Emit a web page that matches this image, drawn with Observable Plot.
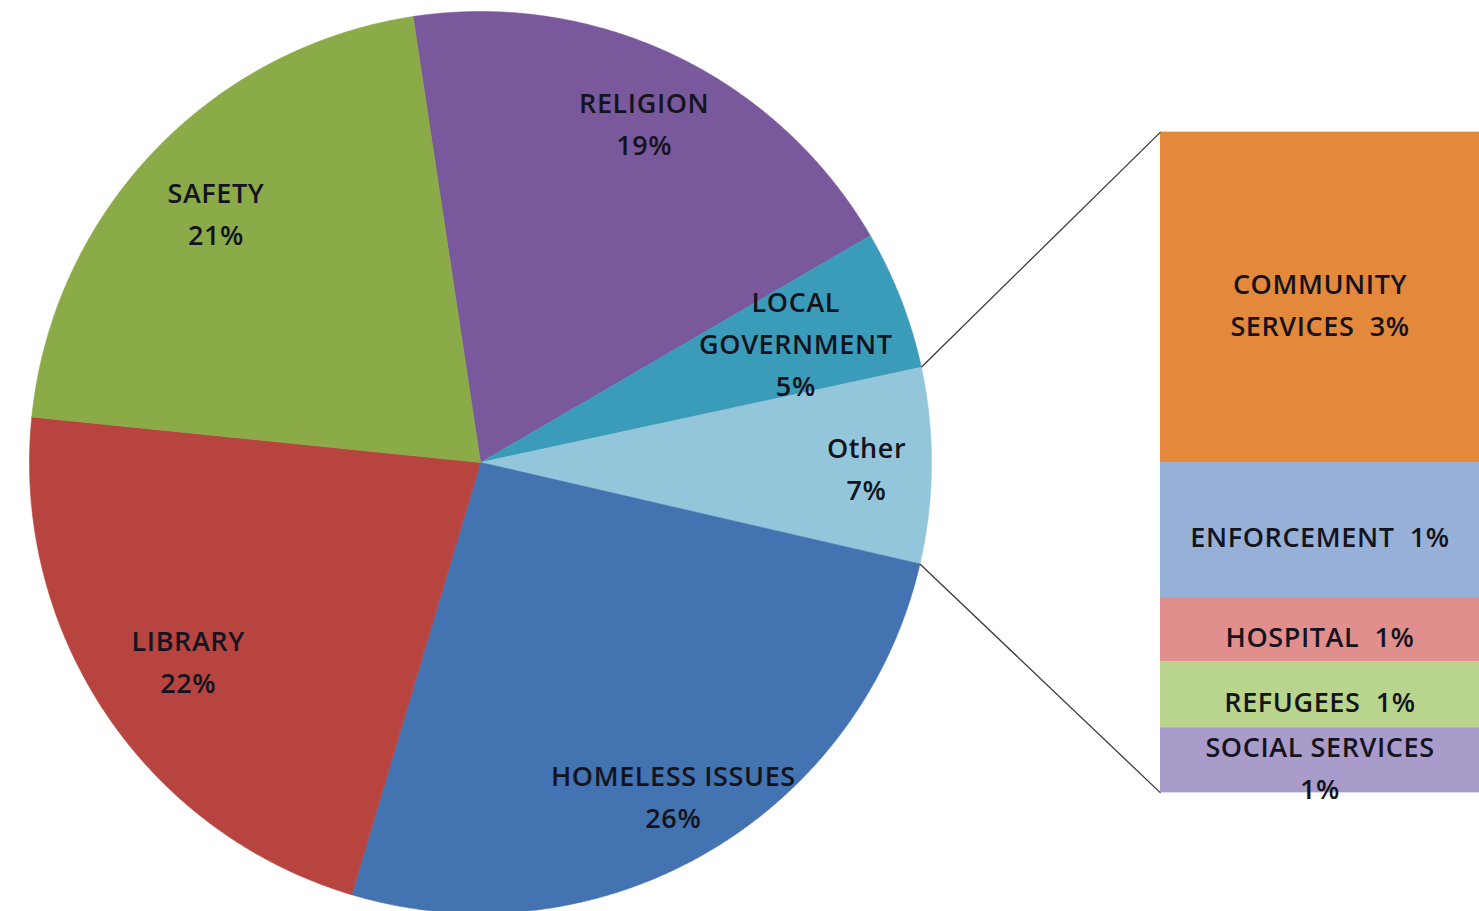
<!DOCTYPE html>
<html><head><meta charset="utf-8">
<script src="https://cdn.jsdelivr.net/npm/d3@7"></script>
<script src="https://cdn.jsdelivr.net/npm/@observablehq/plot@0.6"></script>
<style>html,body{margin:0;padding:0;background:#fff;overflow:hidden}</style>
</head><body><div id="chart"></div>
<script>
// ---- data ----
const pieCategories = ["RELIGION", "LOCAL GOVERNMENT", "Other", "HOMELESS ISSUES", "LIBRARY", "SAFETY"];
const pieValues = [19, 5, 7, 26, 22, 21];
const pieLabels = ["RELIGION\n19%", "LOCAL\nGOVERNMENT\n5%", "Other\n7%", "HOMELESS ISSUES\n26%", "LIBRARY\n22%", "SAFETY\n21%"];
const barCategories = ["COMMUNITY SERVICES", "ENFORCEMENT", "HOSPITAL", "REFUGEES", "SOCIAL SERVICES"];
const barValues = [3.5, 1.43, 0.68, 0.7, 0.69];
const barLabels = ["COMMUNITY\nSERVICES  3%", "ENFORCEMENT  1%", "HOSPITAL  1%", "REFUGEES  1%", "SOCIAL SERVICES\n1%"];

// ---- styles ----
const pieColors = ["#7a589c", "#3b9cba", "#93c6da", "#4373b1", "#b8443f", "#8aab47"];
const barColors = ["#e4883c", "#96b0d8", "#e18f8c", "#b8d48d", "#a99bca"];
const labelRadius = {"RELIGION": 0.84, "LOCAL GOVERNMENT": 0.75, "Other": 0.856, "HOMELESS ISSUES": 0.85, "LIBRARY": 0.78, "SAFETY": 0.81};

// ---- layout ----
const W = 1479, H = 911, cx = 480, cy = 462, R = 451;
const barLeft = (1160 - cx) / R, barRight = (W - cx) / R, barHeight = 1.465, barTop = barHeight / 2;
const otherIndex = pieCategories.indexOf("Other");
const total = d3.sum(pieValues);
const before = d3.sum(pieValues.slice(0, otherIndex));
const startDeg = 90.4 - (before + pieValues[otherIndex] / 2) * 360 / total;
const rad = d => d * Math.PI / 180;
const pt = (deg, r = 1) => ({x: r * Math.sin(rad(deg)), y: r * Math.cos(rad(deg))});

const slices = [];
const pieLabelRows = [];
let acc = 0, otherA0 = 0, otherA1 = 0;
pieValues.forEach((v, i) => {
  const cat = pieCategories[i];
  const a0 = startDeg + acc * 360 / total;
  acc += v;
  const a1 = startDeg + acc * 360 / total;
  if (i === otherIndex) { otherA0 = a0; otherA1 = a1; }
  slices.push({cat, x: 0, y: 0});
  for (let a = a0; a < a1; a += 0.25) slices.push({cat, ...pt(a)});
  slices.push({cat, ...pt(a1)});
  slices.push({cat, x: 0, y: 0});
  pieLabelRows.push({text: pieLabels[i], ...pt((a0 + a1) / 2, labelRadius[cat])});
});

const barScale = barHeight / d3.sum(barValues);
const barRows = [];
let bacc = 0;
barValues.forEach((v, i) => {
  const y1 = barTop - bacc * barScale;
  bacc += v;
  const y2 = barTop - bacc * barScale;
  barRows.push({cat: barCategories[i], label: barLabels[i], x1: barLeft, x2: barRight, y1, y2, ym: (y1 + y2) / 2, xm: (barLeft + barRight) / 2});
});

const pOther0 = pt(otherA0), pOther1 = pt(otherA1);
const connectors = [
  {x1: pOther0.x, y1: pOther0.y, x2: barLeft, y2: barTop},
  {x1: pOther1.x, y1: pOther1.y, x2: barLeft, y2: barTop - barHeight}
];

const font = "'Open Sans', 'Liberation Sans', sans-serif";
const chart = Plot.plot({
  width: W, height: H, margin: 0,
  style: {fontFamily: font, background: "#fff", letterSpacing: "0.6px"},
  x: {domain: [-cx / R, (W - cx) / R], axis: null},
  y: {domain: [-(H - cy) / R, cy / R], axis: null},
  color: {type: "ordinal", domain: [...pieCategories, ...barCategories], range: [...pieColors, ...barColors]},
  marks: [
    Plot.line(slices, {x: "x", y: "y", z: "cat", fill: "cat", stroke: "cat", strokeWidth: 0.6, curve: "linear"}),
    Plot.rect(barRows, {x1: "x1", x2: "x2", y1: "y1", y2: "y2", fill: "cat"}),
    Plot.link(connectors, {x1: "x1", y1: "y1", x2: "x2", y2: "y2", stroke: "#3a3a3a", strokeWidth: 1.3}),
    Plot.text(pieLabelRows, {x: "x", y: "y", text: "text", fontSize: 27, fontWeight: 600, fontFamily: font, fill: "#141420", lineHeight: 1.56}),
    Plot.text(barRows, {x: "xm", y: "ym", text: "label", fontSize: 27, fontWeight: 600, fontFamily: font, fill: "#141420", lineHeight: 1.56, dy: 4})
  ]
});
document.getElementById("chart").append(chart);
</script>
</body></html>
